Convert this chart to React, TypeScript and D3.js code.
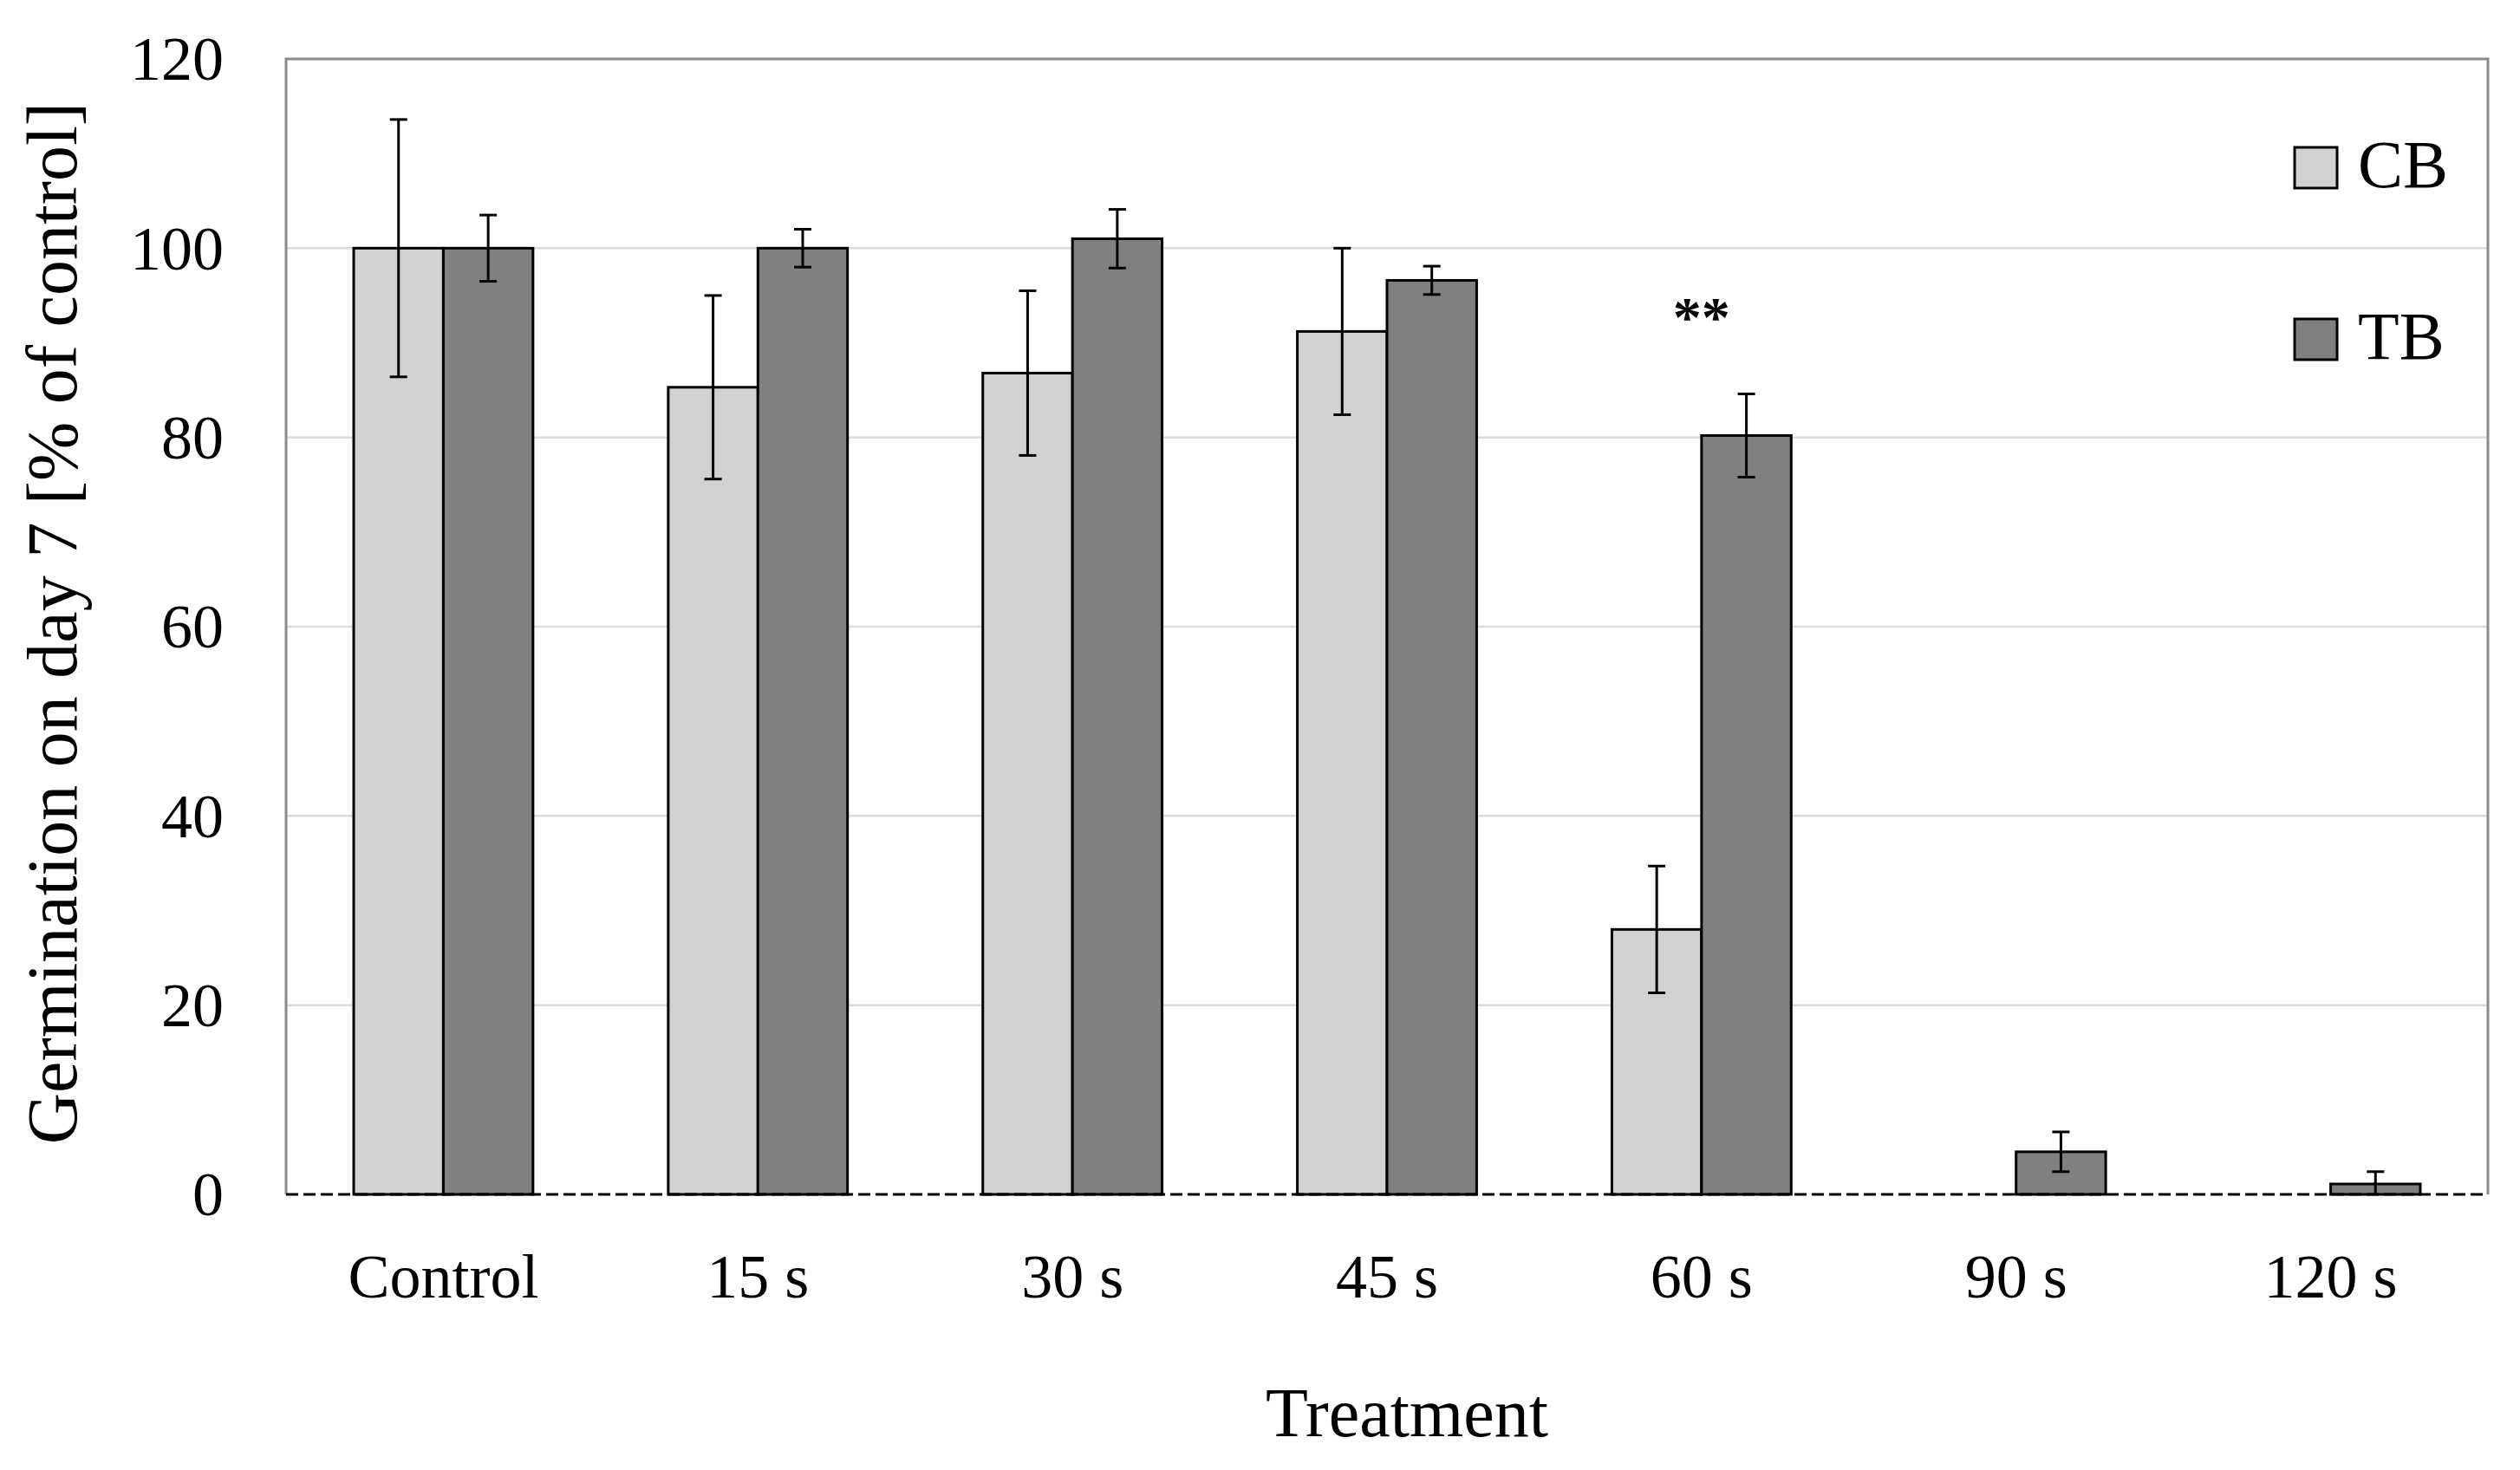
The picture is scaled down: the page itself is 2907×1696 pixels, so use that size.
import React, { useEffect, useRef } from 'react';
import * as d3 from 'd3';

const categories = ['Control', '15 s', '30 s', '45 s', '60 s', '90 s', '120 s'];
const seriesNames = ['CB', 'TB'];
const cbValues = [100, 85.3, 86.8, 91.2, 28.0, 0, 0];
const cbErrors = [13.6, 9.7, 8.7, 8.8, 6.7, 0, 0];
const tbValues = [100, 100, 101.0, 96.6, 80.2, 4.5, 1.1];
const tbErrors = [3.5, 2.0, 3.1, 1.5, 4.4, 2.1, 1.3];
const yTicks = [0, 20, 40, 60, 80, 100, 120];
const annotations = [{ category: '60 s', value: 93.6, text: '**' }];

const colors: Record<string, string> = { CB: '#d3d0d1', TB: '#808080' };
const FONT = '"Liberation Serif", "Times New Roman", serif';

export default function App() {
  const ref = useRef<SVGSVGElement>(null);

  useEffect(() => {
    document.body.style.margin = '0';
    if (!ref.current) return;
    const svg = d3.select(ref.current);
    svg.selectAll('*').remove();

    const W = 2907, H = 1696;
    const m = { left: 330, right: W - 2870, top: 68, bottom: H - 1378 };
    const x0 = d3.scaleBand<string>().domain(categories).range([m.left, W - m.right]).paddingInner(0.43).paddingOuter(0.215);
    const x1 = d3.scaleBand<string>().domain(seriesNames).range([0, x0.bandwidth()]);
    const y = d3.scaleLinear().domain([0, 120]).range([H - m.bottom, m.top]);

    svg.attr('width', W).attr('height', H).style('font-family', FONT);
    svg.append('rect').attr('width', W).attr('height', H).attr('fill', '#fff');

    // gridlines
    svg.append('g').selectAll('line').data(yTicks.filter(t => t > 0 && t < 120)).enter().append('line')
      .attr('x1', m.left).attr('x2', W - m.right).attr('y1', d => y(d)).attr('y2', d => y(d))
      .attr('stroke', '#dcdcdc').attr('stroke-width', 2.5);

    // frame (left, top, right)
    svg.append('path')
      .attr('d', `M${m.left},${y(0)}V${y(120)}H${W - m.right}V${y(0)}`)
      .attr('fill', 'none').attr('stroke', '#8a8a8a').attr('stroke-width', 3);

    const rows = categories.map((c, i) => ({
      c,
      items: [
        { s: 'CB', v: cbValues[i], e: cbErrors[i] },
        { s: 'TB', v: tbValues[i], e: tbErrors[i] },
      ],
    }));

    const g = svg.append('g').selectAll('g').data(rows).enter().append('g')
      .attr('transform', d => `translate(${x0(d.c)},0)`);

    const bars = g.selectAll('g.bar').data(d => d.items.filter(it => it.v > 0)).enter().append('g').attr('class', 'bar');
    bars.append('rect')
      .attr('x', d => x1(d.s)!).attr('width', x1.bandwidth())
      .attr('y', d => y(d.v)).attr('height', d => y(0) - y(d.v))
      .attr('fill', d => colors[d.s]).attr('stroke', '#000').attr('stroke-width', 3);

    const cx = (d: { s: string }) => x1(d.s)! + x1.bandwidth() / 2;
    bars.append('line')
      .attr('x1', cx).attr('x2', cx)
      .attr('y1', d => y(d.v + d.e)).attr('y2', d => y(Math.max(0, d.v - d.e)))
      .attr('stroke', '#000').attr('stroke-width', 3);
    bars.append('line')
      .attr('x1', d => cx(d) - 10).attr('x2', d => cx(d) + 10)
      .attr('y1', d => y(d.v + d.e)).attr('y2', d => y(d.v + d.e))
      .attr('stroke', '#000').attr('stroke-width', 3);
    bars.filter(d => d.v - d.e > 0).append('line')
      .attr('x1', d => cx(d) - 10).attr('x2', d => cx(d) + 10)
      .attr('y1', d => y(d.v - d.e)).attr('y2', d => y(d.v - d.e))
      .attr('stroke', '#000').attr('stroke-width', 3);

    // dashed zero line
    svg.append('line')
      .attr('x1', m.left).attr('x2', W - m.right).attr('y1', y(0)).attr('y2', y(0))
      .attr('stroke', '#000').attr('stroke-width', 3).attr('stroke-dasharray', '14,6');

    // y tick labels
    svg.append('g').selectAll('text').data(yTicks).enter().append('text')
      .attr('x', 258).attr('y', d => y(d)).attr('dy', '0.34em')
      .attr('text-anchor', 'end').attr('font-size', 72).attr('fill', '#000')
      .text(d => d);

    // category labels
    svg.append('g').selectAll('text').data(categories).enter().append('text')
      .attr('x', d => x0(d)! + x0.bandwidth() / 2).attr('y', 1497)
      .attr('text-anchor', 'middle').attr('font-size', 72).attr('fill', '#000')
      .text(d => d);

    // axis titles
    svg.append('text').attr('x', 1623).attr('y', 1657).attr('text-anchor', 'middle')
      .attr('font-size', 80).attr('fill', '#000').text('Treatment');
    svg.append('text').attr('transform', 'translate(88,719) rotate(-90)').attr('text-anchor', 'middle')
      .attr('font-size', 82).attr('fill', '#000').text('Germination on day 7 [% of control]');

    // annotation
    svg.append('g').selectAll('text').data(annotations).enter().append('text')
      .attr('x', d => x0(d.category)! + x0.bandwidth() / 2).attr('y', d => y(d.value) + 32)
      .attr('text-anchor', 'middle').attr('font-size', 66).attr('font-weight', 'bold').attr('fill', '#000')
      .text(d => d.text);

    // legend
    const legend = svg.append('g').selectAll('g').data(seriesNames).enter().append('g')
      .attr('transform', (_, i) => `translate(2647,${170 + i * 198})`);
    legend.append('rect').attr('width', 49).attr('height', 47)
      .attr('fill', d => colors[d]).attr('stroke', '#000').attr('stroke-width', 3);
    legend.append('text').attr('x', 73).attr('y', 46).attr('font-size', 78).attr('fill', '#000').text(d => d);
  }, []);

  return <svg ref={ref} style={{ display: 'block' }} />;
}
